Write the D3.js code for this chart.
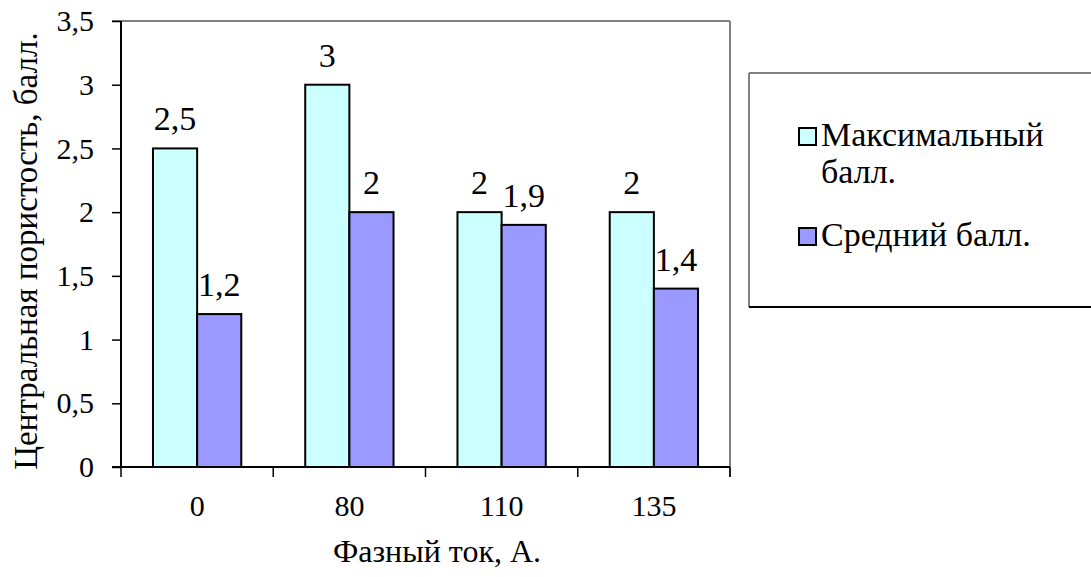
<!DOCTYPE html>
<html>
<head>
<meta charset="utf-8">
<script src="https://cdn.jsdelivr.net/npm/d3@7"></script>
</head>
<body style="margin:0">
<svg id="chart" width="1091" height="577"></svg>
<script>
// Phase current categories (A) and porosity scores
const categories = ["0", "80", "110", "135"];
const seriesNames = ["Максимальный балл.", "Средний балл."];
const maxScore = [2.5, 3, 2, 2];
const avgScore = [1.2, 2, 1.9, 1.4];
const yTicks = [0, 0.5, 1, 1.5, 2, 2.5, 3, 3.5];
const seriesColors = ["#CCFFFF", "#9999FF"];

const fmt = v => String(v).replace(".", ",");

const svg = d3.select("#chart");
const plot = { left: 121, right: 730, top: 21, bottom: 467 };

const x = d3.scaleBand().domain(categories).range([plot.left, plot.right]).paddingInner(0).paddingOuter(0);
const y = d3.scaleLinear().domain([0, 3.5]).range([plot.bottom, plot.top]);
const barW = x.bandwidth() * 0.29;
const groupOffset = (x.bandwidth() - 2 * barW) / 2;

function label(sel, size) {
  return sel.style("font-family", "'Times New Roman'")
    .style("font-size", size + "px").style("fill", "#000");
}

// plot frame: top and right edges
svg.append("line").attr("x1", plot.left - 9).attr("x2", plot.right).attr("y1", plot.top).attr("y2", plot.top)
  .attr("stroke", "#808080").attr("stroke-width", 2);
svg.append("line").attr("x1", plot.right).attr("x2", plot.right).attr("y1", plot.top).attr("y2", plot.bottom + 10)
  .attr("stroke", "#808080").attr("stroke-width", 2);

// bars with value labels
const data = categories.map((c, i) => ({ c, vals: [maxScore[i], avgScore[i]] }));
const groups = svg.append("g").selectAll("g").data(data).join("g");
groups.each(function (d) {
  const g = d3.select(this);
  d.vals.forEach((v, s) => {
    const bx = x(d.c) + groupOffset + s * barW;
    g.append("rect")
      .attr("x", bx).attr("y", y(v))
      .attr("width", barW).attr("height", y(0) - y(v))
      .attr("fill", seriesColors[s]).attr("stroke", "#000").attr("stroke-width", 2);
    label(g.append("text"), 34)
      .attr("x", bx + barW / 2).attr("y", y(v) - 18)
      .attr("text-anchor", "middle")
      .text(fmt(v));
  });
});

// y axis
const yAxis = d3.axisLeft(y).tickValues(yTicks).tickSize(9).tickPadding(18).tickFormat(fmt);
const gy = svg.append("g").attr("transform", `translate(${plot.left},0)`).call(yAxis);
gy.attr("font-family", null).attr("font-size", null);
gy.select(".domain").attr("stroke", "#000").attr("stroke-width", 2).attr("d", `M0,${plot.top}V${plot.bottom}`);
gy.selectAll(".tick line").attr("stroke", "#000").attr("stroke-width", 1.5);
label(gy.selectAll(".tick text"), 30);

// x axis with ticks at category boundaries
const xAxis = d3.axisBottom(x).tickSize(0).tickPadding(28);
const gx = svg.append("g").attr("transform", `translate(0,${plot.bottom})`).call(xAxis);
gx.attr("font-family", null).attr("font-size", null);
gx.select(".domain").attr("stroke", "#000").attr("stroke-width", 2).attr("d", `M${plot.left - 9},0H${plot.right}`);
label(gx.selectAll(".tick text"), 30);
const bounds = categories.map(c => x(c)).concat([x(categories[categories.length - 1]) + x.bandwidth()]);
gx.selectAll(".bound").data(bounds).join("line").attr("class", "bound")
  .attr("x1", d => d).attr("x2", d => d).attr("y1", 0).attr("y2", 10)
  .attr("stroke", "#000").attr("stroke-width", 1.5);

// axis titles
label(svg.append("text"), 32).attr("x", 437).attr("y", 562).attr("text-anchor", "middle")
  .text("Фазный ток, А.");
label(svg.append("text"), 33).attr("transform", "translate(37,251) rotate(-90)").attr("text-anchor", "middle")
  .text("Центральная пористость, балл.");

// legend
const lg = svg.append("g");
lg.append("line").attr("x1", 749).attr("x2", 1091).attr("y1", 73).attr("y2", 73).attr("stroke", "#808080").attr("stroke-width", 2);
lg.append("line").attr("x1", 749).attr("x2", 749).attr("y1", 73).attr("y2", 307).attr("stroke", "#808080").attr("stroke-width", 2);
lg.append("line").attr("x1", 749).attr("x2", 1091).attr("y1", 307).attr("y2", 307).attr("stroke", "#000").attr("stroke-width", 2);

const legendRows = [
  { lines: ["Максимальный", "балл."], base: 146 },
  { lines: ["Средний балл."], base: 246 }
];
legendRows.forEach((r, i) => {
  lg.append("rect").attr("x", 799).attr("y", r.base - 18).attr("width", 17).attr("height", 17)
    .attr("fill", seriesColors[i]).attr("stroke", "#000").attr("stroke-width", 2);
  const t = label(lg.append("text"), 34).attr("x", 821).attr("y", r.base);
  r.lines.forEach((ln, k) => t.append("tspan").attr("x", 821).attr("dy", k === 0 ? 0 : 37).text(ln));
});
</script>
</body>
</html>
